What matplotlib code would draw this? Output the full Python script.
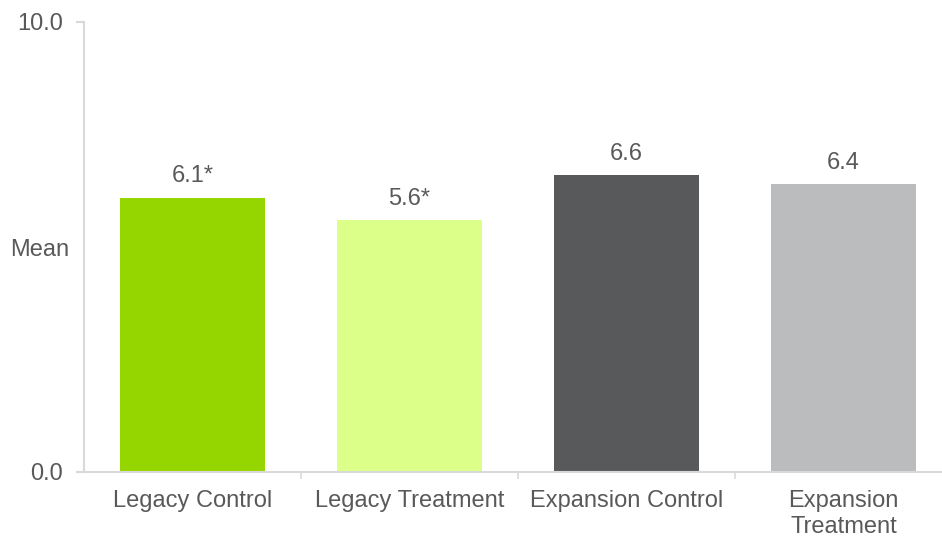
import matplotlib
matplotlib.use("Agg")
import matplotlib.pyplot as plt
from matplotlib.ticker import FixedLocator

plt.rcParams['font.family'] = ['Liberation Sans', 'DejaVu Sans']

categories = ["Legacy Control", "Legacy Treatment", "Expansion Control", "Expansion\nTreatment"]
means = [6.1, 5.6, 6.6, 6.4]
value_labels = ["6.1*", "5.6*", "6.6", "6.4"]
bar_colors = ["#96D600", "#DCFF8A", "#58595B", "#BBBCBE"]
y_ticks = [0.0, 10.0]
y_tick_labels = ["0.0", "10.0"]

text_color = "#595959"
axis_color = "#D9D9D9"

fig = plt.figure(figsize=(9.42, 5.36), dpi=100)
ax = fig.add_axes([84 / 942, 1 - 472 / 536, 868 / 942, 450 / 536])

x = list(range(len(categories)))
bars = ax.bar(x, means, width=0.67, color=bar_colors, zorder=2)

for xi, v, lab in zip(x, means, value_labels):
    ax.annotate(lab, (xi, v), xytext=(0, 7.5), textcoords="offset points",
                ha="center", va="bottom", fontsize=17, color=text_color)

ax.set_xlim(-0.5, 3.5)
ax.set_ylim(0, 10)

ax.set_xticks(x)
ax.set_xticklabels(categories, fontsize=17, color=text_color, linespacing=1.22)
ax.tick_params(axis="x", which="major", length=0, pad=13)
ax.xaxis.set_minor_locator(FixedLocator([0.5, 1.5, 2.5]))
ax.tick_params(axis="x", which="minor", length=5, width=1.2, color=axis_color)

ax.set_yticks(y_ticks)
ax.set_yticklabels(y_tick_labels, fontsize=17, color=text_color)
ax.tick_params(axis="y", length=6, width=1.5, color=axis_color, pad=9)

for side in ("top", "right"):
    ax.spines[side].set_visible(False)
for side in ("left", "bottom"):
    ax.spines[side].set_color(axis_color)
    ax.spines[side].set_linewidth(1.5)

fig.text(40 / 942, 1 - 250 / 536, "Mean", ha="center", va="center",
         fontsize=17, color=text_color)

fig.savefig("out.png", dpi=100)
